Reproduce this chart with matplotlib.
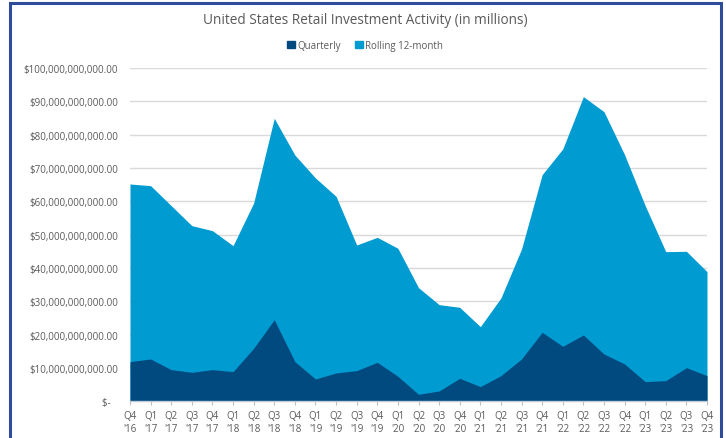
import matplotlib
matplotlib.use("Agg")
import matplotlib.pyplot as plt
from matplotlib.patches import Rectangle
from matplotlib.ticker import FuncFormatter, FixedLocator
import numpy as np

plt.rcParams['font.family'] = ['Open Sans', 'DejaVu Sans']

quarters = ["Q4\n'16", "Q1\n'17", "Q2\n'17", "Q3\n'17", "Q4\n'17",
            "Q1\n'18", "Q2\n'18", "Q3\n'18", "Q4\n'18",
            "Q1\n'19", "Q2\n'19", "Q3\n'19", "Q4\n'19",
            "Q1\n'20", "Q2\n'20", "Q3\n'20", "Q4\n'20",
            "Q1\n'21", "Q2\n'21", "Q3\n'21", "Q4\n'21",
            "Q1\n'22", "Q2\n'22", "Q3\n'22", "Q4\n'22",
            "Q1\n'23", "Q2\n'23", "Q3\n'23", "Q4\n'23"]

# values in billions of dollars
rolling_12m = [65.2, 64.7, 58.7, 52.7, 51.2, 46.7, 59.5, 84.9, 73.9, 67.0,
               61.5, 46.9, 49.2, 45.9, 34.1, 29.0, 28.2, 22.4, 31.0, 45.7,
               68.0, 75.7, 91.4, 86.9, 74.0, 58.7, 44.9, 45.0, 38.9]
quarterly = [11.9, 12.7, 9.5, 8.7, 9.5, 8.9, 15.9, 24.5, 11.9, 6.7,
             8.5, 9.2, 11.7, 7.5, 2.1, 3.1, 6.9, 4.4, 7.7, 12.7,
             20.7, 16.5, 19.9, 14.2, 11.2, 5.9, 6.2, 10.1, 7.7]

title = "United States Retail Investment Activity (in millions)"
c_quarterly = "#004A80"
c_rolling = "#009BD0"
text_c = "#595959"

W, H = 726, 439
fig = plt.figure(figsize=(W / 100, H / 100), dpi=100)

ax = fig.add_axes([130 / W, 1 - 402.3 / H, (707 - 130) / W, (402.3 - 69) / H])

x = np.arange(len(quarters))
r = np.array(rolling_12m) * 1e9
q = np.array(quarterly) * 1e9
ax.fill_between(x, 0, r, color=c_rolling, linewidth=0, zorder=2, label="Rolling 12-month")
ax.fill_between(x, 0, q, color=c_quarterly, linewidth=0, zorder=3, label="Quarterly")

ax.set_xlim(0, len(quarters) - 1)
ax.set_ylim(0, 100e9)
ax.yaxis.set_major_locator(FixedLocator(np.arange(0, 100e9 + 1, 10e9)))


def fmt(v, pos):
    if abs(v) < 1:
        return "$-   "
    return "${:,.2f}".format(v)


ax.yaxis.set_major_formatter(FuncFormatter(fmt))
ax.grid(axis='y', color="#D9D9D9", linewidth=1.0, zorder=0)
ax.set_axisbelow(True)
for s in ['top', 'right', 'left']:
    ax.spines[s].set_visible(False)
ax.spines['bottom'].set_color("#BFC9D4")
ax.spines['bottom'].set_linewidth(1.0)
ax.spines['bottom'].set_zorder(5)

ax.set_xticks(x)
ax.set_xticklabels(quarters, linespacing=1.3)
ax.tick_params(axis='x', length=3, color="#BFBFBF", labelsize=7, labelcolor=text_c, pad=3)
ax.tick_params(axis='y', length=0, labelsize=7, labelcolor=text_c, pad=8.8)

fig.text(365 / W, 1 - 20 / H, title, ha='center', va='center', fontsize=9.8, color=text_c)

handles = [Rectangle((0, 0), 1, 1, color=c_quarterly), Rectangle((0, 0), 1, 1, color=c_rolling)]
fig.legend(handles, ["Quarterly", "Rolling 12-month"], loc='center', bbox_to_anchor=(365 / W, 1 - 46.5 / H),
           ncol=2, frameon=False, fontsize=7, labelcolor=text_c, handlelength=0.8, handleheight=0.8,
           handletextpad=0.2, columnspacing=1.5)

border = Rectangle((9.5 / W, -0.05), (721 - 9.5) / W, 1.05 - 4 / H, transform=fig.transFigure,
                   fill=False, edgecolor="#2F4B9B", linewidth=2.2, zorder=10)
fig.patches.append(border)

fig.savefig("out.png", dpi=100)
